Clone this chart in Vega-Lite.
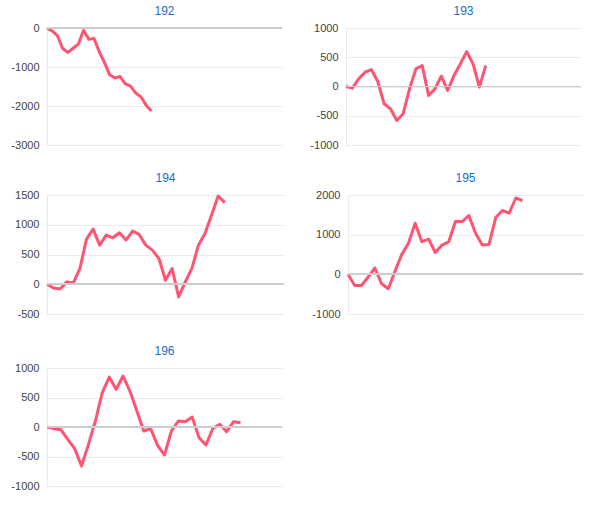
{
  "$schema": "https://vega.github.io/schema/vega-lite/v6.json",
  "background": "white",
  "padding": {"left": 10, "top": 5, "right": 5, "bottom": 5},
  "config": {
    "font": "Liberation Sans",
    "view": {"stroke": null},
    "axisY": {"ticks": false, "domain": true, "domainColor": "#ebebeb", "gridColor": "#ebebeb", "labelColor": "#444444", "labelFontSize": 11, "labelPadding": 8, "labelOverlap": false, "labelFlush": false, "labelExpr": "datum.value + ''", "tickCount": 20, "title": null},
    "title": {"fontSize": 12, "fontWeight": "normal", "color": "#1a6ed0", "offset": 4}
  },
  "datasets": {
    "d192": [{"i":0,"v":0},{"i":1,"v":-76},{"i":2,"v":-200},{"i":3,"v":-525},{"i":4,"v":-627},{"i":5,"v":-520},{"i":6,"v":-415},{"i":7,"v":-60},{"i":8,"v":-290},{"i":9,"v":-270},{"i":10,"v":-610},{"i":11,"v":-880},{"i":12,"v":-1200},{"i":13,"v":-1280},{"i":14,"v":-1245},{"i":15,"v":-1430},{"i":16,"v":-1490},{"i":17,"v":-1670},{"i":18,"v":-1770},{"i":19,"v":-1985},{"i":20,"v":-2130}],
    "d193": [{"i":0,"v":0},{"i":1,"v":-28},{"i":2,"v":130},{"i":3,"v":245},{"i":4,"v":290},{"i":5,"v":85},{"i":6,"v":-295},{"i":7,"v":-380},{"i":8,"v":-580},{"i":9,"v":-465},{"i":10,"v":-40},{"i":11,"v":300},{"i":12,"v":357},{"i":13,"v":-153},{"i":14,"v":-40},{"i":15,"v":176},{"i":16,"v":-68},{"i":17,"v":187},{"i":18,"v":386},{"i":19,"v":597},{"i":20,"v":386},{"i":21,"v":-11},{"i":22,"v":357}],
    "d194": [{"i":0,"v":0},{"i":1,"v":-62},{"i":2,"v":-79},{"i":3,"v":40},{"i":4,"v":22},{"i":5,"v":264},{"i":6,"v":758},{"i":7,"v":927},{"i":8,"v":657},{"i":9,"v":826},{"i":10,"v":781},{"i":11,"v":865},{"i":12,"v":742},{"i":13,"v":893},{"i":14,"v":837},{"i":15,"v":657},{"i":16,"v":573},{"i":17,"v":433},{"i":18,"v":67},{"i":19,"v":264},{"i":20,"v":-213},{"i":21,"v":40},{"i":22,"v":264},{"i":23,"v":657},{"i":24,"v":854},{"i":25,"v":1163},{"i":26,"v":1483},{"i":27,"v":1371}],
    "d195": [{"i":0,"v":0},{"i":1,"v":-280},{"i":2,"v":-280},{"i":3,"v":-68},{"i":4,"v":160},{"i":5,"v":-237},{"i":6,"v":-364},{"i":7,"v":76},{"i":8,"v":500},{"i":9,"v":780},{"i":10,"v":1288},{"i":11,"v":822},{"i":12,"v":890},{"i":13,"v":551},{"i":14,"v":737},{"i":15,"v":822},{"i":16,"v":1330},{"i":17,"v":1330},{"i":18,"v":1483},{"i":19,"v":1034},{"i":20,"v":737},{"i":21,"v":754},{"i":22,"v":1432},{"i":23,"v":1610},{"i":24,"v":1542},{"i":25,"v":1924},{"i":26,"v":1856}],
    "d196": [{"i":0,"v":0},{"i":1,"v":-28},{"i":2,"v":-45},{"i":3,"v":-209},{"i":4,"v":-367},{"i":5,"v":-661},{"i":6,"v":-294},{"i":7,"v":102},{"i":8,"v":582},{"i":9,"v":847},{"i":10,"v":638},{"i":11,"v":864},{"i":12,"v":610},{"i":13,"v":271},{"i":14,"v":-68},{"i":15,"v":-28},{"i":16,"v":-311},{"i":17,"v":-475},{"i":18,"v":-68},{"i":19,"v":102},{"i":20,"v":90},{"i":21,"v":170},{"i":22,"v":-181},{"i":23,"v":-305},{"i":24,"v":-23},{"i":25,"v":45},{"i":26,"v":-79},{"i":27,"v":90},{"i":28,"v":73}]
  },
  "spacing": 26,
  "vconcat": [
    {
      "spacing": 22,
      "vconcat": [
        {
          "spacing": 26,
          "hconcat": [
            {
              "title": "192", "width": 235, "height": 117,
              "data": {"name": "d192"},
              "layer": [
                {"mark": {"type": "line", "color": "#ff5572", "strokeWidth": 3, "strokeJoin": "round"}, "encoding": {"x": {"field": "i", "type": "quantitative", "scale": {"domain": [0, 45], "nice": false}, "axis": null}, "y": {"field": "v", "type": "quantitative", "scale": {"domain": [-3000, 0], "nice": false}, "axis": {"values": [-3000, -2000, -1000, 0], "tickCount": 20}}}},
                {"mark": {"type": "rule", "color": "#cccccc", "strokeWidth": 1}, "encoding": {"y": {"datum": 0}}}
              ]
            },
            {
              "title": "193", "width": 235, "height": 117,
              "data": {"name": "d193"},
              "layer": [
                {"mark": {"type": "line", "color": "#ff5572", "strokeWidth": 3, "strokeJoin": "round"}, "encoding": {"x": {"field": "i", "type": "quantitative", "scale": {"domain": [0, 37], "nice": false}, "axis": null}, "y": {"field": "v", "type": "quantitative", "scale": {"domain": [-1000, 1000], "nice": false}, "axis": {"values": [-1000, -500, 0, 500, 1000], "tickCount": 20}}}},
                {"mark": {"type": "rule", "color": "#cccccc", "strokeWidth": 1}, "encoding": {"y": {"datum": 0}}}
              ]
            }
          ]
        },
        {
          "spacing": 26,
          "hconcat": [
            {
              "title": "194", "width": 237, "height": 119,
              "data": {"name": "d194"},
              "layer": [
                {"mark": {"type": "line", "color": "#ff5572", "strokeWidth": 3, "strokeJoin": "round"}, "encoding": {"x": {"field": "i", "type": "quantitative", "scale": {"domain": [0, 36], "nice": false}, "axis": null}, "y": {"field": "v", "type": "quantitative", "scale": {"domain": [-500, 1500], "nice": false}, "axis": {"values": [-500, 0, 500, 1000, 1500], "tickCount": 20}}}},
                {"mark": {"type": "rule", "color": "#cccccc", "strokeWidth": 1}, "encoding": {"y": {"datum": 0}}}
              ]
            },
            {
              "title": "195", "width": 235, "height": 119,
              "data": {"name": "d195"},
              "layer": [
                {"mark": {"type": "line", "color": "#ff5572", "strokeWidth": 3, "strokeJoin": "round"}, "encoding": {"x": {"field": "i", "type": "quantitative", "scale": {"domain": [0, 35], "nice": false}, "axis": null}, "y": {"field": "v", "type": "quantitative", "scale": {"domain": [-1000, 2000], "nice": false}, "axis": {"values": [-1000, 0, 1000, 2000], "tickCount": 20}}}},
                {"mark": {"type": "rule", "color": "#cccccc", "strokeWidth": 1}, "encoding": {"y": {"datum": 0}}}
              ]
            }
          ]
        }
      ]
    },
    {
      "title": "196", "width": 235, "height": 118,
      "data": {"name": "d196"},
      "layer": [
        {"mark": {"type": "line", "color": "#ff5572", "strokeWidth": 3, "strokeJoin": "round"}, "encoding": {"x": {"field": "i", "type": "quantitative", "scale": {"domain": [0, 34], "nice": false}, "axis": null}, "y": {"field": "v", "type": "quantitative", "scale": {"domain": [-1000, 1000], "nice": false}, "axis": {"values": [-1000, -500, 0, 500, 1000], "tickCount": 20}}}},
        {"mark": {"type": "rule", "color": "#cccccc", "strokeWidth": 1}, "encoding": {"y": {"datum": 0}}}
      ]
    }
  ]
}
